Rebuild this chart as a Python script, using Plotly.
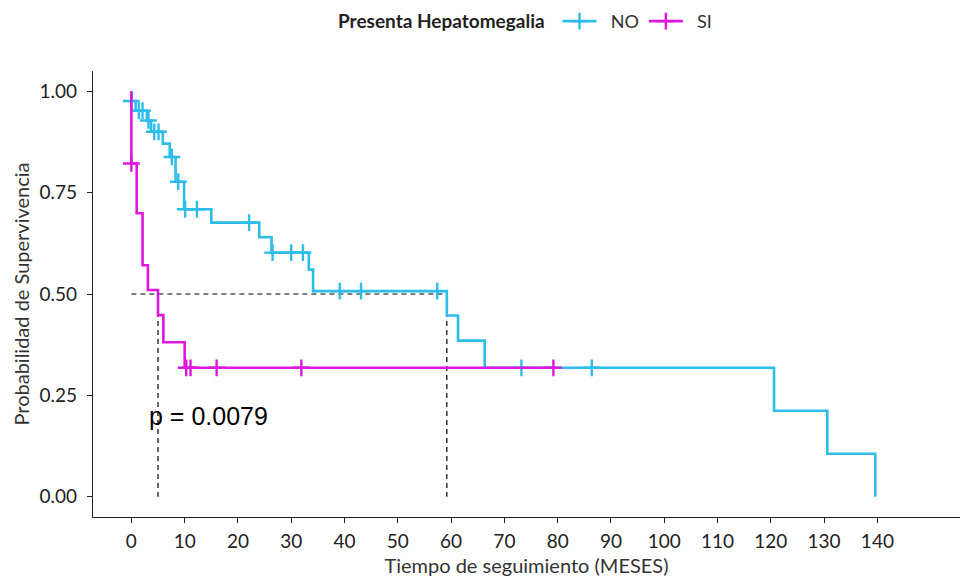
import plotly.graph_objects as go
import numpy as np

# ---- data ----
group_names = ["NO", "SI"]
group_colors = ["#2DBDEA", "#DD17DD"]

no_times = [0, 0, 0.8, 2.9, 3.7, 5.9, 7.2, 8.3, 9.9, 15.0, 24.0, 26.3, 33.3, 34.1,
            59.2, 61.3, 66.3, 120.6, 130.6, 139.6]
no_surv = [1.0, 0.976, 0.952, 0.928, 0.900, 0.871, 0.838, 0.777, 0.709, 0.676, 0.640,
           0.602, 0.560, 0.507, 0.447, 0.385, 0.318, 0.212, 0.106, 0.0]
no_censor = [0, 1.4, 2.1, 3.2, 4.3, 5.1, 7.6, 8.8, 10.1, 12.3, 22.1, 26.5, 30.0, 32.2,
             39.1, 43.1, 57.4, 73.2, 86.4]

si_times = [0, 0, 1.0, 2.1, 3.1, 5.0, 6.0, 10.0, 79.4]
si_surv = [1.0, 0.822, 0.699, 0.571, 0.510, 0.448, 0.381, 0.318, 0.318]
si_censor = [0, 10.3, 11.1, 16.0, 31.9, 79.2]

x_ticks = list(range(0, 150, 10))
y_ticks = [0, 0.25, 0.5, 0.75, 1.0]
y_tick_labels = ["0.00", "0.25", "0.50", "0.75", "1.00"]
p_text = "p = 0.0079"

series = [
    (no_times, no_surv, no_censor),
    (si_times, si_surv, si_censor),
]


def surv_at(times, surv, t):
    s = surv[0]
    for tt, ss in zip(times, surv):
        if tt <= t:
            s = ss
    return s


def median_time(times, surv):
    for tt, ss in zip(times, surv):
        if ss <= 0.5:
            return tt
    return None


fig = go.Figure()
tick_font = dict(family="Lato", size=19, color="#222222")
title_font = dict(family="Lato", size=20, color="#333333")
dash_style = dict(color="black", width=1.2, dash="5px,4px")

medians = [median_time(t, s) for t, s, _ in series]

# median dashed lines
fig.add_trace(go.Scatter(x=[0, max(medians)], y=[0.5, 0.5], mode="lines",
                         line=dash_style, showlegend=False, hoverinfo="skip"))
for m in medians:
    fig.add_trace(go.Scatter(x=[m, m], y=[0.5, 0], mode="lines",
                             line=dash_style, showlegend=False, hoverinfo="skip"))

marker_style = lambda col: dict(symbol="cross-thin", size=12, color=col,
                                line=dict(color=col, width=2.4))

for (times, surv, cens), name, col in zip(series, group_names, group_colors):
    fig.add_trace(go.Scatter(x=times, y=surv, mode="lines", line_shape="hv",
                             line=dict(color=col, width=2.6), showlegend=False))
    fig.add_trace(go.Scatter(x=cens, y=[surv_at(times, surv, c) for c in cens],
                             mode="markers", marker=marker_style(col),
                             showlegend=False))

for name, col in zip(group_names, group_colors):
    fig.add_trace(go.Scatter(x=[None], y=[None], mode="lines+markers",
                             name="  " + name,
                             line=dict(color=col, width=2.6),
                             marker=marker_style(col)))

fig.add_annotation(x=3, y=0.2, xref="x", yref="y", text=p_text, showarrow=False,
                   xanchor="left", yanchor="middle",
                   font=dict(family="Liberation Sans", size=25, color="black"))

fig.update_layout(
    width=960, height=578,
    margin=dict(l=93, r=0, t=71, b=61),
    plot_bgcolor="white", paper_bgcolor="white",
    legend=dict(orientation="h", x=0.5, xanchor="center", yref="container",
                y=0.995, yanchor="top",
                title=dict(text="<b>Presenta Hepatomegalia</b> ",
                           font=dict(family="Lato", size=19, color="#222222")),
                font=dict(family="Lato", size=18, color="#333333"),
                itemwidth=34, tracegroupgap=0),
    xaxis=dict(range=[-7.2, 155.5], tickvals=x_ticks, showgrid=False, zeroline=False,
               showline=True, linecolor="#222222", linewidth=1.2,
               ticks="outside", ticklen=5, tickcolor="#222222",
               tickfont=tick_font, ticklabelstandoff=2,
               title=dict(text="Tiempo de seguimiento (MESES)", font=title_font, standoff=8)),
    yaxis=dict(range=[-0.05, 1.05], tickvals=y_ticks, ticktext=y_tick_labels,
               showgrid=False, zeroline=False,
               showline=True, linecolor="#222222", linewidth=1.2,
               ticks="outside", ticklen=5, tickcolor="#222222",
               tickfont=tick_font, ticklabelstandoff=6,
               title=dict(text="Probabilidad de Supervivencia", font=title_font, standoff=4)),
)

fig.write_html("out.html")
